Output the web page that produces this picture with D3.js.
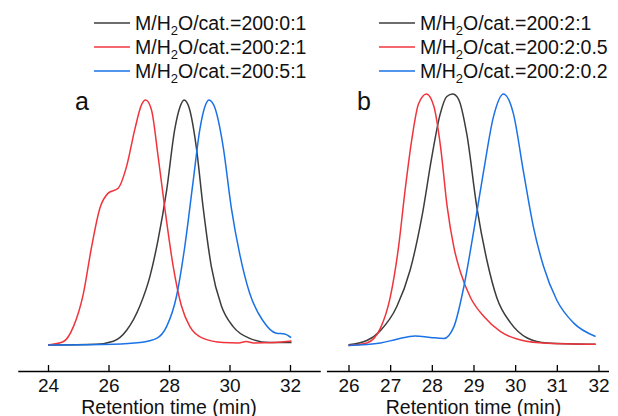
<!DOCTYPE html>
<html>
<head>
<meta charset="utf-8">
<script src="https://cdn.jsdelivr.net/npm/d3@7"></script>
<style>
  body { margin: 0; background: #fff; }
  svg { display: block; font-family: "Liberation Sans", Arial, sans-serif; }
</style>
</head>
<body>
<script>
// panel a: retention time (min) / normalised intensity
const aBlack = [[24.0,0],[25.6,0.003],[26.16,0.015],[26.6,0.06],[27.04,0.16],[27.37,0.28],[27.64,0.43],[27.92,0.63],[28.19,0.88],[28.36,0.97],[28.5,1.0],[28.66,0.97],[28.9,0.81],[29.13,0.56],[29.4,0.32],[29.73,0.16],[30.12,0.075],[30.67,0.027],[31.33,0.01],[32.05,0.01]];
const aRed = [[24.0,0],[24.5,0.013],[24.84,0.075],[25.17,0.21],[25.44,0.40],[25.72,0.56],[25.99,0.62],[26.32,0.64],[26.6,0.73],[26.87,0.88],[27.09,0.98],[27.23,1.0],[27.42,0.96],[27.64,0.77],[27.86,0.56],[28.14,0.32],[28.41,0.16],[28.69,0.075],[29.13,0.027],[29.79,0.01],[30.3,0.008],[30.55,0.014],[30.8,0.008],[31.5,0.01],[32.05,0.016]];
const aBlue = [[24.0,0],[26.16,0.003],[27.04,0.01],[27.59,0.027],[27.92,0.075],[28.25,0.2],[28.52,0.40],[28.8,0.67],[29.02,0.88],[29.18,0.97],[29.32,1.0],[29.51,0.97],[29.79,0.81],[30.06,0.56],[30.34,0.37],[30.67,0.21],[31.1,0.10],[31.55,0.048],[31.82,0.045],[32.04,0.03]];

// panel b
const bBlack = [[26.0,0.003],[26.44,0.02],[26.77,0.06],[27.16,0.155],[27.48,0.30],[27.76,0.51],[28.0,0.75],[28.2,0.92],[28.36,0.99],[28.5,1.0],[28.64,0.98],[28.84,0.84],[29.08,0.55],[29.32,0.34],[29.56,0.19],[29.89,0.09],[30.29,0.03],[30.77,0.01],[31.93,0.005]];
const bRed = [[26.0,0],[26.44,0.01],[26.77,0.07],[27.0,0.19],[27.2,0.39],[27.36,0.62],[27.52,0.82],[27.68,0.96],[27.87,1.0],[28.05,0.95],[28.21,0.79],[28.37,0.55],[28.53,0.39],[28.69,0.29],[28.93,0.19],[29.25,0.115],[29.65,0.055],[30.13,0.022],[30.77,0.009],[31.93,0.005]];
const bBlue = [[26.0,0],[26.77,0.01],[27.16,0.025],[27.6,0.038],[27.97,0.032],[28.29,0.028],[28.53,0.075],[28.77,0.235],[29.0,0.45],[29.24,0.69],[29.48,0.91],[29.72,1.0],[29.96,0.92],[30.2,0.69],[30.44,0.47],[30.68,0.315],[31.0,0.18],[31.4,0.09],[31.93,0.036]];

const aTicks = [24, 26, 28, 30, 32];
const bTicks = [26, 27, 28, 29, 30, 31, 32];
const aLegend = ['200:0:1', '200:2:1', '200:5:1'];
const bLegend = ['200:2:1', '200:2:0.5', '200:2:0.2'];
const colors = ['#3c3c3c', '#f0343c', '#1a72e6'];

const W = 618, H = 416;
const svg = d3.select('body').append('svg').attr('width', W).attr('height', H);

const panels = [
  { label: 'a', series: [aBlack, aRed, aBlue], ticks: aTicks, legend: aLegend,
    x: d3.scaleLinear().domain([23, 33]).range([17.75, 320.25]),
    y: d3.scaleLinear().domain([0, 1]).range([345, 100]),
    labelX: 75, legendX: 94 },
  { label: 'b', series: [bBlack, bRed, bBlue], ticks: bTicks, legend: bLegend,
    x: d3.scaleLinear().domain([25.47, 32.24]).range([326.4, 608.5]),
    y: d3.scaleLinear().domain([0, 1]).range([345.5, 94]),
    labelX: 357, legendX: 379 }
];

const axisY = 371;

panels.forEach(p => {
  const g = svg.append('g');

  const line = d3.line()
    .x(d => p.x(d[0]))
    .y(d => p.y(d[1]))
    .curve(d3.curveMonotoneX);

  g.selectAll('path.curve')
    .data(p.series)
    .join('path')
    .attr('class', 'curve')
    .attr('d', line)
    .attr('fill', 'none')
    .attr('stroke', (d, i) => colors[i])
    .attr('stroke-width', 1.5);

  const axis = g.append('g')
    .attr('transform', `translate(0,${axisY})`)
    .call(d3.axisBottom(p.x).tickValues(p.ticks).tickFormat(d3.format('d'))
      .tickSizeInner(-6).tickSizeOuter(0).tickPadding(8));
  axis.select('.domain').attr('stroke', '#000').attr('stroke-width', 1.3);
  axis.selectAll('.tick line').attr('stroke', '#000').attr('stroke-width', 1.3);
  axis.selectAll('.tick text')
    .attr('font-size', 19).attr('fill', '#111')
    .attr('font-family', '"Liberation Sans", Arial, sans-serif')
    .attr('y', 8).attr('dy', '0.71em');

  g.append('text')
    .attr('x', (p.x(p.ticks[0]) + p.x(p.ticks[p.ticks.length - 1])) / 2)
    .attr('y', 414)
    .attr('text-anchor', 'middle')
    .attr('font-size', 19.5)
    .attr('fill', '#111')
    .text('Retention time (min)');

  g.append('text')
    .attr('x', p.labelX)
    .attr('y', 110)
    .attr('font-size', 25)
    .attr('fill', '#111')
    .text(p.label);

  const leg = g.selectAll('g.leg')
    .data(p.legend)
    .join('g')
    .attr('class', 'leg')
    .attr('transform', (d, i) => `translate(${p.legendX},${23 + i * 24})`);

  leg.append('line')
    .attr('x1', 0).attr('x2', 36)
    .attr('stroke', (d, i) => colors[i])
    .attr('stroke-width', 1.3);

  const t = leg.append('text')
    .attr('x', 41)
    .attr('y', 7)
    .attr('font-size', 19.5)
    .attr('fill', '#111');
  t.append('tspan').text('M/H');
  t.append('tspan').attr('font-size', 13).attr('dy', 5).text('2');
  t.append('tspan').attr('dy', -5).text(d => 'O/cat.=' + d);
});
</script>
</body>
</html>
